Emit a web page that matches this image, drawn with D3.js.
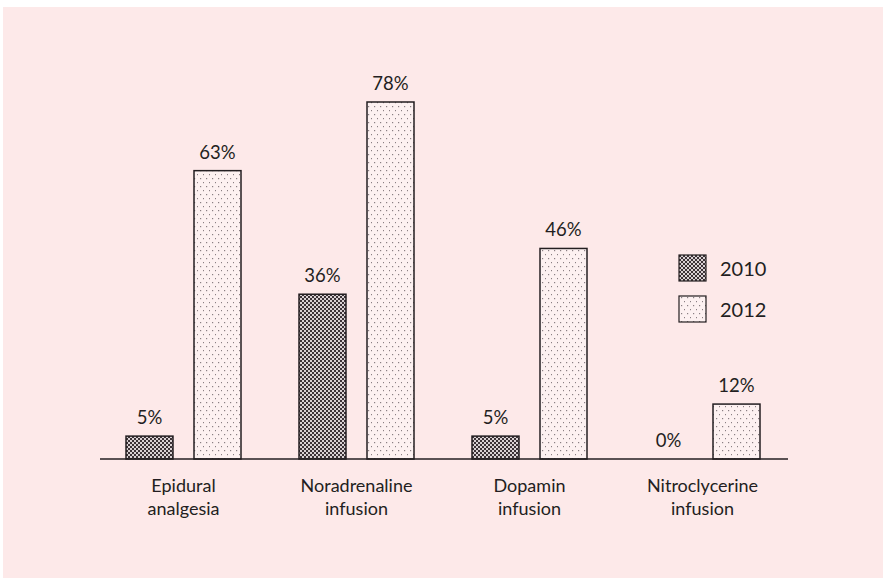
<!DOCTYPE html>
<html><head><meta charset="utf-8">
<script src="https://cdn.jsdelivr.net/npm/d3@7"></script>
<style>body{margin:0;background:#fff;}svg{display:block;}</style>
</head><body>
<svg id="c" width="883" height="578"></svg>
<script>
const categories = [["Epidural","analgesia"],["Noradrenaline","infusion"],["Dopamin","infusion"],["Nitroclycerine","infusion"]];
const seriesNames = ["2010","2012"];
const values2010 = [5, 36, 5, 0];
const values2012 = [63, 78, 46, 12];
const valueLabels2010 = ["5%","36%","5%","0%"];
const valueLabels2012 = ["63%","78%","46%","12%"];

const svg = d3.select("#c");
const ink = "#231e21";
const font = "Lato, 'Open Sans', sans-serif";
svg.append("rect").attr("x",3).attr("y",7).attr("width",880).attr("height",571).attr("fill","#fde9e9");

const defs = svg.append("defs");
const p1 = defs.append("pattern").attr("id","checker").attr("patternUnits","userSpaceOnUse").attr("width",4).attr("height",4);
p1.append("rect").attr("width",4).attr("height",4).attr("fill","#d9d1d3");
p1.append("rect").attr("width",2).attr("height",2).attr("fill","#3b3236");
p1.append("rect").attr("x",2).attr("y",2).attr("width",2).attr("height",2).attr("fill","#3b3236");
const p2 = defs.append("pattern").attr("id","dots").attr("patternUnits","userSpaceOnUse").attr("width",6).attr("height",8);
p2.append("rect").attr("width",6).attr("height",8).attr("fill","#fdf1f1");
p2.append("rect").attr("x",2).attr("y",2).attr("width",1.2).attr("height",1.2).attr("fill","#8a7f83");
p2.append("rect").attr("x",5).attr("y",6).attr("width",1.2).attr("height",1.2).attr("fill","#8a7f83");

const x0 = d3.scaleBand().domain(d3.range(categories.length)).range([97, 789]).paddingInner(0).paddingOuter(0);
const groupW = 115;
const x1 = d3.scaleBand().domain(seriesNames).range([0, groupW]).paddingInner(0.309).paddingOuter(0);
const y = d3.scaleLinear().domain([0, 78]).range([459, 102]);

const fills = {"2010":"url(#checker)","2012":"url(#dots)"};
const data = [];
categories.forEach((c,i)=>{
  data.push({i, s:"2010", v:values2010[i], lab:valueLabels2010[i]});
  data.push({i, s:"2012", v:values2012[i], lab:valueLabels2012[i]});
});
const bx = d => x0(d.i) + (x0.bandwidth()-groupW)/2 + x1(d.s);

svg.append("g").selectAll("rect").data(data.filter(d=>d.v>0)).join("rect")
  .attr("x", bx).attr("y", d=>y(d.v)).attr("width", x1.bandwidth()).attr("height", d=>y(0)-y(d.v))
  .attr("fill", d=>fills[d.s]).attr("stroke", ink).attr("stroke-width",1.5);

svg.append("g").selectAll("text").data(data).join("text")
  .attr("x", d=>bx(d)+x1.bandwidth()/2).attr("y", d=>y(d.v)-12)
  .attr("text-anchor","middle").attr("font-family",font).attr("font-size",18.5).attr("fill",ink)
  .text(d=>d.lab);

// axis line
svg.append("line").attr("x1",100).attr("x2",788).attr("y1",y(0)).attr("y2",y(0)).attr("stroke",ink).attr("stroke-width",1.5);

// category labels
const cl = svg.append("g").selectAll("text").data(categories).join("text")
  .attr("text-anchor","middle").attr("font-family",font).attr("font-size",18).attr("fill",ink)
  .attr("transform",(d,i)=>`translate(${x0(i)+x0.bandwidth()/2},0)`);
cl.selectAll("tspan").data(d=>d).join("tspan").attr("x",0).attr("y",(d,j)=>492+j*23).text(d=>d);

// legend
const lg = svg.append("g").attr("transform","translate(679,255)");
seriesNames.forEach((s,j)=>{
  lg.append("rect").attr("x",0).attr("y",j*41).attr("width",27).attr("height",26).attr("fill",fills[s]).attr("stroke",ink).attr("stroke-width",1.2);
  lg.append("text").attr("x",41).attr("y",j*41+21).attr("font-family",font).attr("font-size",20).attr("fill",ink).text(s);
});
</script>
</body></html>
